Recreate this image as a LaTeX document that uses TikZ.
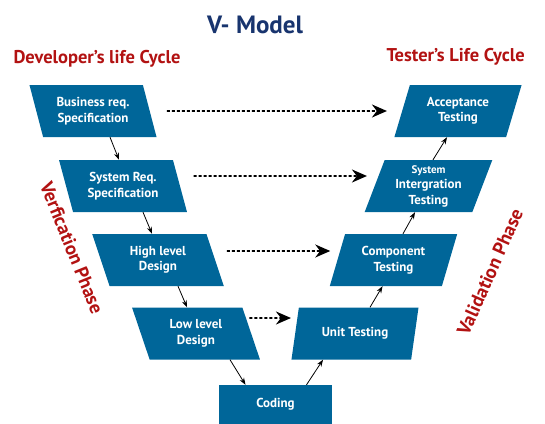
\documentclass[tikz,border=0pt]{standalone}
\usepackage{fontspec}
\setmainfont{PT Sans}
\usetikzlibrary{shapes.geometric,arrows.meta}
\definecolor{boxblue}{RGB}{0,102,153}
\definecolor{titleblue}{RGB}{24,52,110}
\definecolor{darkred}{RGB}{178,18,18}
\begin{document}
\begin{tikzpicture}[x=1pt,y=-1pt,
 box/.style={fill=boxblue, text=white, font=\fontsize{13}{15.5}\selectfont\bfseries, align=center, inner sep=0pt},
 leftbox/.style={box, trapezium, trapezium left angle=110, trapezium right angle=70, trapezium stretches, minimum width=128pt, minimum height=52pt},
 rightbox/.style={box, trapezium, trapezium left angle=70, trapezium right angle=110, trapezium stretches, minimum width=128pt, minimum height=52pt},
 flow/.style={-{Stealth[length=7pt,width=5pt]}, line width=0.8pt},
 link/.style={-{Stealth[length=15pt,width=13pt]}, line width=1.8pt, dash pattern=on 3pt off 2pt},
 phase/.style={text=darkred, font=\fontsize{19}{21}\selectfont\bfseries},
 heading/.style={text=darkred, font=\fontsize{18.5}{20}\selectfont\bfseries}
]
\useasboundingbox (0,0) rectangle (545,423);

\node[text=titleblue, font=\fontsize{25}{27}\selectfont\bfseries] (title) at (255,25) {V- Model};
\node[heading] (dev) at (97,59) {Developer’s life Cycle};
\node[heading, anchor=west] (tes) at (383,57) {Tester’s Life Cycle};

\node[leftbox] (B) at (93,111) {Business req.\\Specification};
\node[leftbox] (S) at (123,186) {System Req.\\Specification};
\node[leftbox, minimum width=132pt] (H) at (158,260) {High level\\Design};
\node[leftbox] (L) at (196,333.5) {Low level\\Design};
\node[box, rectangle, minimum width=113pt, minimum height=39pt] (C) at (275.5,404.5) {Coding};
\node[rightbox] (U) at (355,333.5) {Unit Testing};
\node[rightbox] (Co) at (393.5,260) {Component\\Testing};
\node[rightbox] (SI) at (428.5,186) {{\fontsize{11}{13}\selectfont System}\\Intergration\\Testing};
\node[rightbox] (A) at (458,111) {Acceptance\\Testing};

\node[phase, rotate=-68] (ver) at (72,248) {Verfication Phase};
\node[phase, rotate=66] (val) at (490,272) {Validation Phase};

\draw[flow] ([xshift=17pt]B.south) -- ([xshift=-4pt]S.north);
\draw[flow] ([xshift=20pt]S.south) -- ([xshift=-6pt]H.north);
\draw[flow] ([xshift=20pt]H.south) -- ([xshift=-9pt]L.north);
\draw[flow] ([xshift=34pt]L.south) -- ([xshift=-30pt]C.north);
\draw[flow] ([xshift=31pt]C.north) -- ([xshift=-32pt]U.south);
\draw[flow] ([xshift=15pt]U.north) -- ([xshift=-11pt]Co.south);
\draw[flow] ([xshift=9.5pt]Co.north) -- ([xshift=-13.5pt]SI.south);
\draw[flow] ([xshift=4.5pt]SI.north) -- ([xshift=-11pt]A.south);

\draw[link] ([xshift=17pt]B.east) -- ([xshift=-15pt]A.west);
\draw[link] ([xshift=13.5pt,yshift=10pt]S.east) -- ([xshift=-7.5pt,yshift=10pt]SI.west);
\draw[link] ([xshift=11.5pt,yshift=9pt]H.east) -- ([xshift=-7pt,yshift=9pt]Co.west);
\draw[link] ([xshift=-2pt,yshift=15.5pt]L.east) -- ([xshift=-4pt,yshift=15.5pt]U.west);
\end{tikzpicture}
\end{document}
